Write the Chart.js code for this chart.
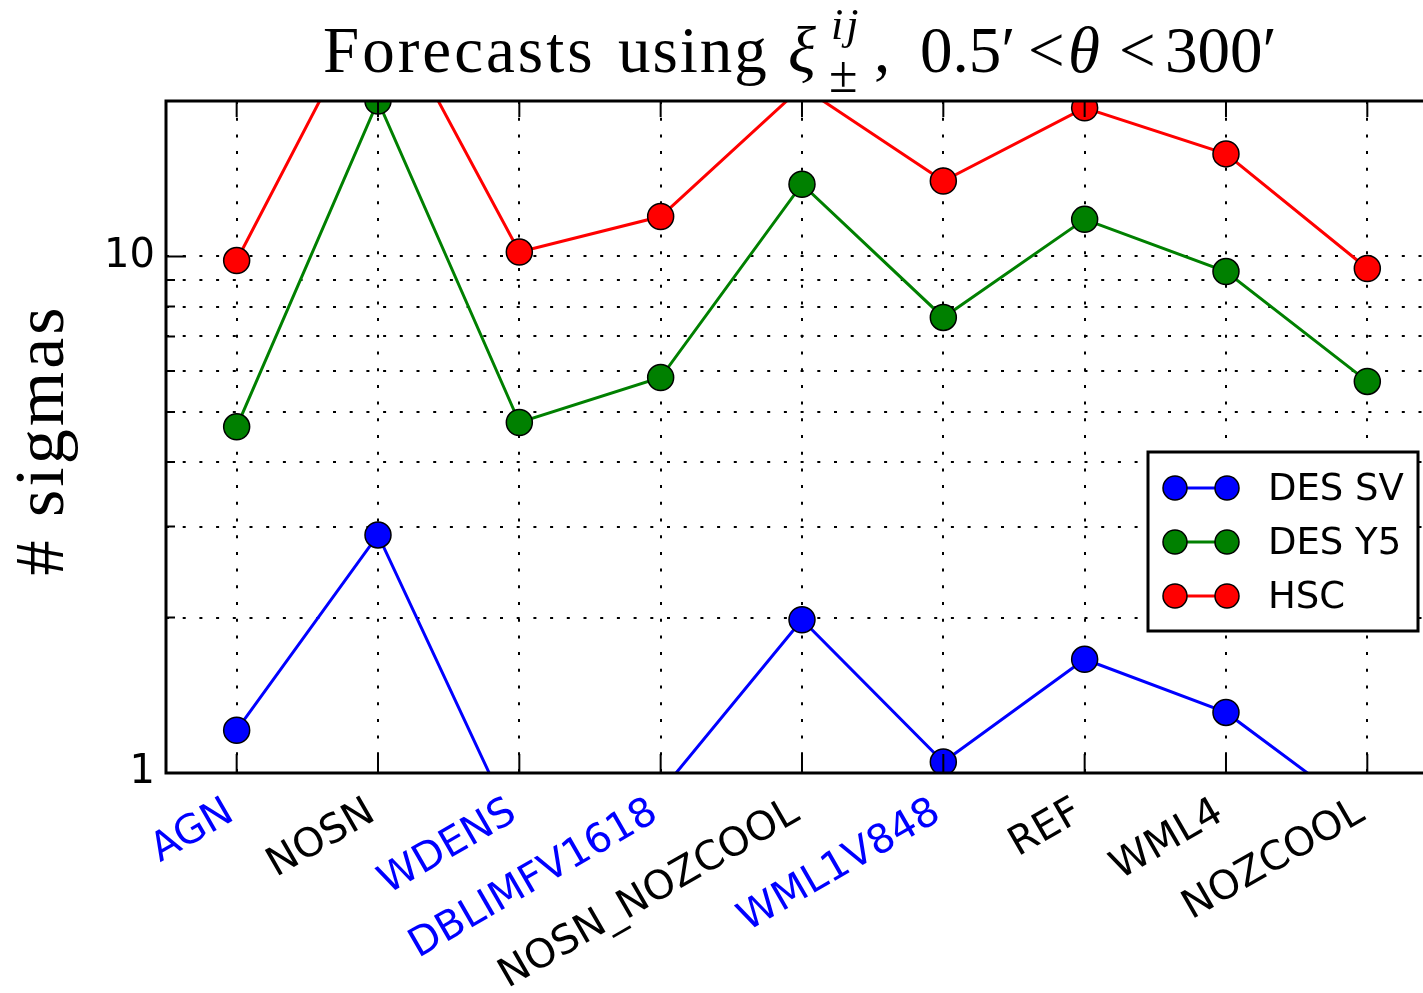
<!DOCTYPE html>
<html>
<head>
<meta charset="utf-8">
<script src="https://cdn.jsdelivr.net/npm/chart.js@4.4.1/dist/chart.umd.min.js"></script>
<style>
  html, body { margin: 0; padding: 0; background: #fff; overflow: hidden; }
</style>
</head>
<body>
<canvas id="c" width="1423" height="993"></canvas>
<script>
// Simulation names along the x axis
const categories = ['AGN', 'NOSN', 'WDENS', 'DBLIMFV1618', 'NOSN_NOZCOOL', 'WML1V848', 'REF', 'WML4', 'NOZCOOL'];
// Label colours: highlighted simulations in blue
const labelColors = ['#0000ff', '#000000', '#0000ff', '#0000ff', '#000000', '#0000ff', '#000000', '#000000', '#000000'];

// Number of sigmas per survey
const desSV = [1.21, 2.89, 0.75, 0.92, 1.98, 1.05, 1.66, 1.31, 0.82];
const desY5 = [4.68, 20.0, 4.77, 5.83, 13.8, 7.62, 11.8, 9.35, 5.73];
const hsc   = [9.82, 33.0, 10.2, 11.95, 21.3, 14.0, 19.4, 15.8, 9.48];

// Log-axis tick positions and the ones that carry a label
const yTicks = [1, 2, 3, 4, 5, 6, 7, 8, 9, 10, 20];
const yLabelled = [1, 10];

const seriesNames = ['DES SV', 'DES Y5', 'HSC'];
const seriesColors = ['#0000ff', '#008000', '#ff0000'];

// x range: half a slot before the first category; the right edge runs past the canvas
const xMin = -0.5;
const xMax = 8.394;

function makeSet(name, values, color) {
  return {
    label: name,
    data: values.map((v, i) => ({ x: i, y: v })),
    borderColor: color,
    backgroundColor: color,
    borderWidth: 3,
    pointRadius: 13,
    pointHoverRadius: 13,
    pointBorderColor: '#000',
    pointBorderWidth: 1.5,
    pointBackgroundColor: color,
    tension: 0,
    clip: 0
  };
}

const SERIF = '"Liberation Serif", "DejaVu Serif", serif';

// Title with math-style super/subscripts
const titlePlugin = {
  id: 'mathTitle',
  afterDraw(chart) {
    const ctx = chart.ctx;
    ctx.save();
    ctx.fillStyle = '#000';
    ctx.textBaseline = 'alphabetic';
    ctx.textAlign = 'left';
    const put = (t, x, y, font, ls) => {
      ctx.font = font;
      ctx.letterSpacing = (ls || 0) + 'px';
      ctx.fillText(t, x, y);
    };
    const big = '65px ' + SERIF, bigIt = 'italic 65px ' + SERIF;
    const smIt = 'italic 44px ' + SERIF;
    put('Forecasts', 323, 72, big, 3);
    put('using', 618, 72, big, 2);
    put('ξ', 788, 72, bigIt, 0);
    put('ij', 831, 39, smIt, 3);
    put('±', 829, 92, '52px ' + SERIF, 0);
    put(',', 874, 72, big, 0);
    put('0.5′', 920, 72, big, 0);
    put('<', 1028, 72, big, 0);
    put('θ', 1068, 72, bigIt, 0);
    put('<', 1119, 72, big, 0);
    put('300′', 1165, 72, big, 0);
    ctx.restore();
  }
};

// Axes frame, inward ticks, axis title and legend box
const framePlugin = {
  id: 'frame',
  afterDraw(chart) {
    const ctx = chart.ctx;
    const a = chart.chartArea;
    const xs = chart.scales.x, ys = chart.scales.y;
    const rightEdge = xs.getPixelForValue(categories.length - 0.5);
    ctx.save();
    ctx.setLineDash([]);
    ctx.strokeStyle = '#000';

    // inward tick marks
    ctx.lineWidth = 2;
    ctx.beginPath();
    categories.forEach((c, i) => {
      const px = xs.getPixelForValue(i);
      ctx.moveTo(px, a.bottom); ctx.lineTo(px, a.bottom - 19);
      ctx.moveTo(px, a.top); ctx.lineTo(px, a.top + 16);
    });
    yTicks.forEach(v => {
      const py = ys.getPixelForValue(v);
      const len = yLabelled.includes(v) ? 20 : 9;
      ctx.moveTo(a.left, py); ctx.lineTo(a.left + len, py);
    });
    ctx.stroke();

    // frame (left, top, bottom; right side lies beyond the canvas)
    ctx.lineWidth = 3;
    ctx.beginPath();
    ctx.moveTo(rightEdge, a.top);
    ctx.lineTo(a.left, a.top);
    ctx.lineTo(a.left, a.bottom);
    ctx.lineTo(rightEdge, a.bottom);
    ctx.stroke();

    // y axis title
    ctx.save();
    ctx.translate(63, 440);
    ctx.rotate(-Math.PI / 2);
    ctx.font = '70px ' + SERIF;
    ctx.letterSpacing = '3px';
    ctx.fillStyle = '#000';
    ctx.textAlign = 'center';
    ctx.textBaseline = 'alphabetic';
    ctx.fillText('# sigmas', 0, 0);
    ctx.restore();

    // legend
    const bx = 1148, by = 452, bw = 270, bh = 179;
    ctx.fillStyle = '#fff';
    ctx.fillRect(bx, by, bw, bh);
    ctx.lineWidth = 3;
    ctx.strokeStyle = '#000';
    ctx.strokeRect(bx, by, bw, bh);
    ctx.font = '37px "DejaVu Sans", sans-serif';
    ctx.textAlign = 'left';
    ctx.textBaseline = 'middle';
    seriesNames.forEach((name, i) => {
      const cy = by + 36 + i * 54;
      const col = seriesColors[i];
      ctx.strokeStyle = col;
      ctx.lineWidth = 3;
      ctx.beginPath();
      ctx.moveTo(1175, cy); ctx.lineTo(1227, cy);
      ctx.stroke();
      [1175, 1227].forEach(mx => {
        ctx.beginPath();
        ctx.arc(mx, cy, 12, 0, Math.PI * 2);
        ctx.fillStyle = col;
        ctx.fill();
        ctx.lineWidth = 1.5;
        ctx.strokeStyle = '#000';
        ctx.stroke();
      });
      ctx.fillStyle = '#000';
      ctx.fillText(name, 1268, cy + 2);
    });
    ctx.restore();
  }
};

new Chart(document.getElementById('c'), {
  type: 'line',
  data: {
    datasets: [
      makeSet(seriesNames[0], desSV, seriesColors[0]),
      makeSet(seriesNames[1], desY5, seriesColors[1]),
      makeSet(seriesNames[2], hsc, seriesColors[2])
    ]
  },
  options: {
    responsive: false,
    devicePixelRatio: 1,
    animation: false,
    layout: { autoPadding: false, padding: { top: 101, right: 0, bottom: 0, left: 0 } },
    plugins: {
      legend: { display: false },
      title: { display: false },
      tooltip: { enabled: false }
    },
    scales: {
      x: {
        type: 'linear',
        min: xMin,
        max: xMax,
        afterFit(s) { s.height = 220; s.paddingLeft = 0; s.paddingRight = 0; },
        afterBuildTicks(s) { s.ticks = categories.map((c, i) => ({ value: i })); },
        grid: { display: true, color: '#000', lineWidth: 2, drawTicks: false },
        border: { display: false, dash: [3, 13.7] },
        ticks: {
          color: ctx => labelColors[ctx.index],
          font: { family: '"DejaVu Sans", sans-serif', size: 40 },
          minRotation: 30,
          maxRotation: 30,
          padding: 16,
          labelOffset: -6,
          autoSkip: false,
          callback: v => categories[v]
        }
      },
      y: {
        type: 'logarithmic',
        min: 1,
        max: 20,
        afterFit(s) { s.width = 166; s.paddingTop = 0; s.paddingBottom = 0; },
        afterBuildTicks(s) { s.ticks = yTicks.map(v => ({ value: v })); },
        grid: { display: true, color: '#000', lineWidth: 2, drawTicks: false },
        border: { display: false, dash: [3, 13.7] },
        ticks: {
          color: '#000',
          font: { family: '"DejaVu Sans", sans-serif', size: 40 },
          padding: 11,
          autoSkip: false,
          callback: v => (yLabelled.includes(v) ? String(v) : '')
        }
      }
    }
  },
  plugins: [titlePlugin, framePlugin]
});
</script>
</body>
</html>
